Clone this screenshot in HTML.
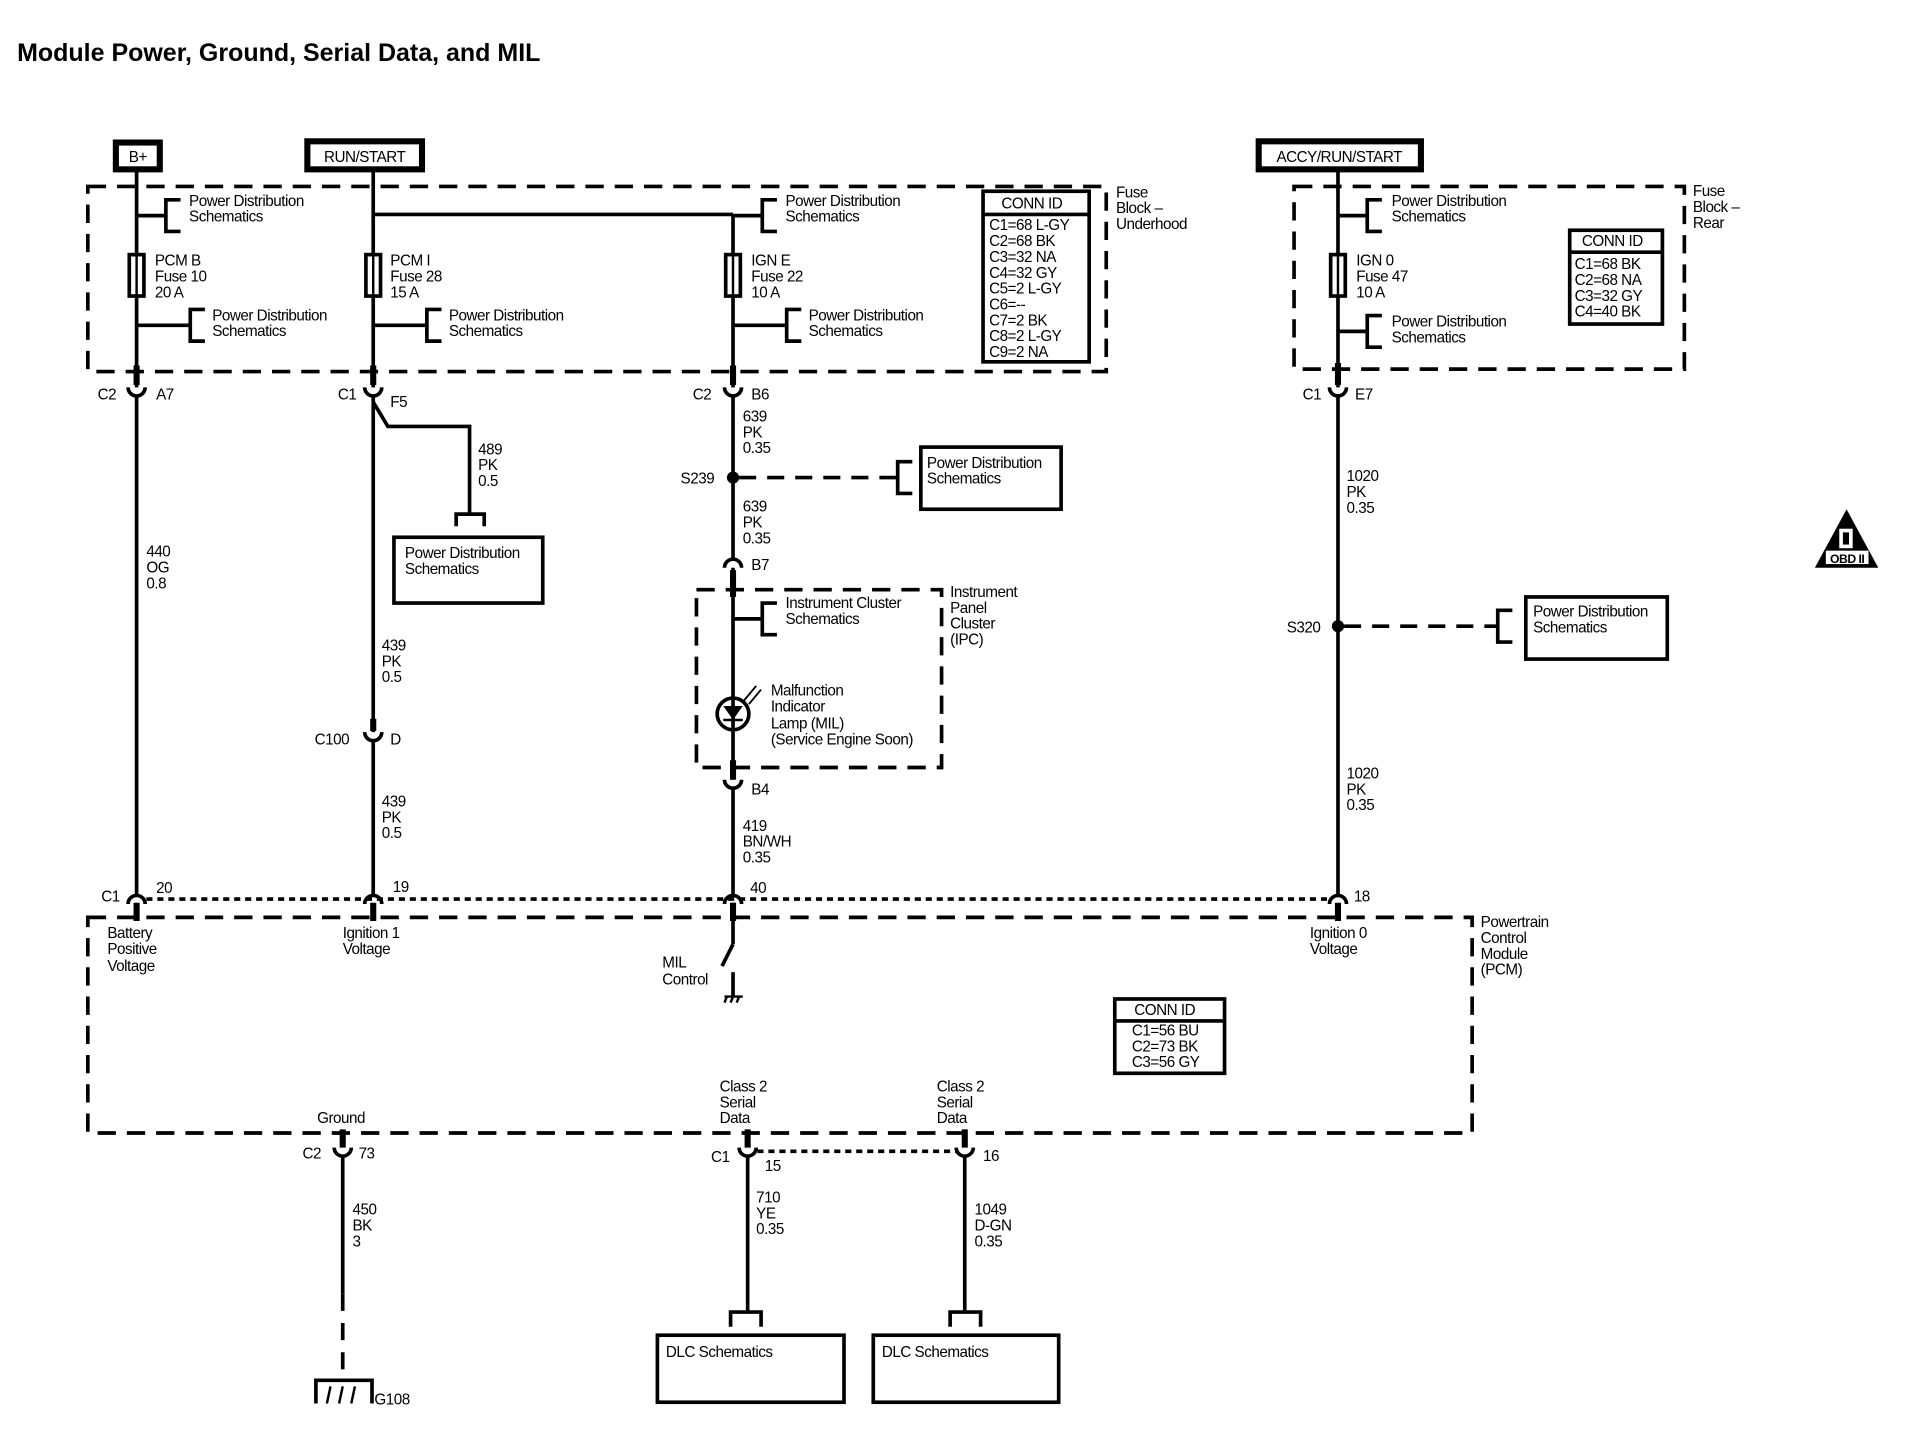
<!DOCTYPE html>
<html><head><meta charset="utf-8"><style>
html,body{margin:0;padding:0;background:#fff;}
svg{display:block;}
text{font-family:"Liberation Sans",Arial,sans-serif;font-size:12.5px;fill:#000;letter-spacing:-0.4px;}
.b{font-weight:bold;}
</style></head><body>
<svg width="1910" height="1440" viewBox="0 0 1566 1182" preserveAspectRatio="none" xmlns="http://www.w3.org/2000/svg">
<rect width="1566" height="1182" fill="#fff"/>
<text x="14" y="50" class="b" style="font-size:20.5px;letter-spacing:0">Module Power, Ground, Serial Data, and MIL</text>

<g fill="none" stroke="#000">
<rect x="95" y="117" width="36" height="22" stroke-width="5"/>
<rect x="252" y="116" width="94" height="23" stroke-width="5"/>
<rect x="1032" y="116" width="133" height="23" stroke-width="5"/>

<rect x="72" y="153" width="835" height="152" stroke-width="3" stroke-dasharray="15 9"/>
<rect x="1061" y="153" width="320" height="150" stroke-width="3" stroke-dasharray="15 9"/>
<rect x="571" y="484" width="201" height="146" stroke-width="3" stroke-dasharray="15 9"/>
<rect x="72" y="753" width="1135" height="177" stroke-width="3" stroke-dasharray="15 9"/>

<g stroke-width="3">
<line x1="112" y1="139" x2="112" y2="318"/>
<line x1="112" y1="325" x2="112" y2="735"/>
<line x1="306" y1="139" x2="306" y2="318"/>
<line x1="306" y1="325" x2="306" y2="601"/>
<line x1="306" y1="608" x2="306" y2="735"/>
<line x1="306" y1="176" x2="601" y2="176"/>
<line x1="601" y1="176" x2="601" y2="318"/>
<line x1="601" y1="325" x2="601" y2="460"/>
<line x1="601" y1="466" x2="601" y2="640"/>
<line x1="601" y1="647" x2="601" y2="735"/>
<line x1="1097" y1="139" x2="1097" y2="318"/>
<line x1="1097" y1="325" x2="1097" y2="735"/>
<polyline points="306,330 318,350 385,350 385,422"/>
<line x1="601" y1="741" x2="601" y2="775"/>
<line x1="601" y1="775" x2="592" y2="793"/>
<line x1="601" y1="798" x2="601" y2="818"/>
<line x1="281" y1="948" x2="281" y2="1062"/>
<line x1="281" y1="1062" x2="281" y2="1132" stroke-dasharray="14 10"/>
<line x1="613" y1="948" x2="613" y2="1077"/>
<line x1="791" y1="948" x2="791" y2="1077"/>
</g>
<g stroke-width="5">
<line x1="112" y1="300" x2="112" y2="316"/><line x1="306" y1="300" x2="306" y2="316"/>
<line x1="601" y1="300" x2="601" y2="316"/><line x1="1097" y1="298" x2="1097" y2="316"/>
<line x1="112" y1="741" x2="112" y2="756"/><line x1="306" y1="741" x2="306" y2="756"/>
<line x1="601" y1="741" x2="601" y2="756"/><line x1="1097" y1="741" x2="1097" y2="756"/>
<line x1="601" y1="468" x2="601" y2="490"/><line x1="601" y1="624" x2="601" y2="640"/>
<line x1="306" y1="590" x2="306" y2="600"/>
<line x1="281" y1="927" x2="281" y2="942"/><line x1="613" y1="927" x2="613" y2="942"/><line x1="791" y1="927" x2="791" y2="942"/>
</g>
<g stroke-width="3">
<path d="M105,318 A7,7 0 0 0 119,318"/>
<path d="M299,318 A7,7 0 0 0 313,318"/>
<path d="M594,318 A7,7 0 0 0 608,318"/>
<path d="M1090,318 A7,7 0 0 0 1104,318"/>
<path d="M299,601 A7,7 0 0 0 313,601"/>
<path d="M594,640 A7,7 0 0 0 608,640"/>
<path d="M274,942 A7,7 0 0 0 288,942"/>
<path d="M606,942 A7,7 0 0 0 620,942"/>
<path d="M784,942 A7,7 0 0 0 798,942"/>
<path d="M105,742 A7,7 0 0 1 119,742"/>
<path d="M299,742 A7,7 0 0 1 313,742"/>
<path d="M594,742 A7,7 0 0 1 608,742"/>
<path d="M1090,742 A7,7 0 0 1 1104,742"/>
<path d="M594,466 A7,7 0 0 1 608,466"/>
</g>
<line x1="120" y1="738" x2="1090" y2="738" stroke-width="3" stroke-dasharray="5 4"/>
<line x1="621" y1="945" x2="784" y2="945" stroke-width="3" stroke-dasharray="5 4"/>

<g stroke-width="3" fill="#fff">
<rect x="106" y="209" width="12" height="34"/><rect x="300" y="209" width="12" height="34"/>
<rect x="595" y="209" width="12" height="34"/><rect x="1091" y="209" width="12" height="34"/>
</g>
<g stroke-width="2"><line x1="112" y1="209" x2="112" y2="243"/><line x1="306" y1="209" x2="306" y2="243"/><line x1="601" y1="209" x2="601" y2="243"/><line x1="1097" y1="209" x2="1097" y2="243"/></g>

<g stroke-width="3">
<line x1="112" y1="177" x2="136" y2="177"/><path d="M148,164 H136 V190 H148"/>
<line x1="112" y1="267" x2="156" y2="267"/><path d="M168,254 H156 V280 H168"/>
<line x1="306" y1="267" x2="350" y2="267"/><path d="M362,254 H350 V280 H362"/>
<line x1="601" y1="177" x2="625" y2="177"/><path d="M637,164 H625 V190 H637"/>
<line x1="601" y1="267" x2="645" y2="267"/><path d="M657,254 H645 V280 H657"/>
<line x1="1097" y1="177" x2="1121" y2="177"/><path d="M1133,164 H1121 V190 H1133"/>
<line x1="1097" y1="272" x2="1121" y2="272"/><path d="M1133,259 H1121 V285 H1133"/>
<line x1="601" y1="508" x2="625" y2="508"/><path d="M637,495 H625 V521 H637"/>
<path d="M374,432 V422 H397 V432"/>
<path d="M599,1089 V1077 H624 V1089"/>
<path d="M779,1089 V1077 H804 V1089"/>
<line x1="606" y1="392" x2="728" y2="392" stroke-dasharray="14 9"/><path d="M748,379 H736 V405 H748"/>
<line x1="728" y1="392" x2="736" y2="392"/>
<line x1="1102" y1="514" x2="1220" y2="514" stroke-dasharray="14 9"/><path d="M1240,501 H1228 V527 H1240"/>
<line x1="1220" y1="514" x2="1228" y2="514"/>
</g>
<g stroke-width="3">
<rect x="323" y="441" width="122" height="54"/>
<rect x="755" y="367" width="115" height="51"/>
<rect x="1251" y="490" width="116" height="51"/>
<rect x="539" y="1096" width="153" height="55"/>
<rect x="716" y="1096" width="152" height="55"/>
<rect x="806" y="157" width="87" height="140"/>
<line x1="806" y1="176" x2="893" y2="176"/>
<rect x="1287" y="189" width="76" height="77"/>
<line x1="1287" y1="207" x2="1363" y2="207"/>
<rect x="914" y="820" width="90" height="61"/>
<line x1="914" y1="838" x2="1004" y2="838"/>
</g>
<circle cx="601" cy="392" r="5" fill="#000" stroke="none"/>
<circle cx="1097" cy="514" r="5" fill="#000" stroke="none"/>
<circle cx="601" cy="586" r="13" stroke-width="3" fill="#fff"/>
<line x1="601" y1="573" x2="601" y2="599" stroke-width="3"/>
<path d="M594,580 H608 L601,590 Z" fill="#000" stroke-width="1"/>
<line x1="593" y1="591" x2="609" y2="591" stroke-width="2"/>
<g stroke-width="1.5"><line x1="610" y1="575" x2="620" y2="563"/><line x1="614" y1="578" x2="624" y2="566"/></g>
<g stroke-width="2"><line x1="594" y1="818" x2="609" y2="818"/><line x1="596" y1="818" x2="594" y2="823"/><line x1="601" y1="818" x2="599" y2="823"/><line x1="606" y1="818" x2="604" y2="823"/></g>
<g stroke-width="3"><path d="M259,1152 V1133 H305 V1152"/></g>
<g stroke-width="2"><line x1="271" y1="1138" x2="268" y2="1152"/><line x1="281" y1="1138" x2="278" y2="1152"/><line x1="291" y1="1138" x2="288" y2="1152"/></g>
</g>
<path d="M1514,418 L1540,466 L1488,466 Z" fill="#000"/>
<rect x="1508" y="434" width="11" height="16" fill="#fff"/>
<rect x="1511" y="437" width="5" height="10" fill="#000"/>
<rect x="1497" y="452" width="35" height="11" fill="#fff"/>
<text x="1514.5" y="462" text-anchor="middle" class="b" style="font-size:10px">OBD II</text>

<text x="113" y="133" text-anchor="middle">B+</text>
<text x="299" y="133" text-anchor="middle">RUN/START</text>
<text x="1098" y="133" text-anchor="middle">ACCY/RUN/START</text>

<text x="155" y="169">Power Distribution</text><text x="155" y="182">Schematics</text>
<text x="127" y="218">PCM B</text><text x="127" y="231">Fuse 10</text><text x="127" y="244">20 A</text>
<text x="174" y="263">Power Distribution</text><text x="174" y="276">Schematics</text>
<text x="320" y="218">PCM I</text><text x="320" y="231">Fuse 28</text><text x="320" y="244">15 A</text>
<text x="368" y="263">Power Distribution</text><text x="368" y="276">Schematics</text>
<text x="644" y="169">Power Distribution</text><text x="644" y="182">Schematics</text>
<text x="616" y="218">IGN E</text><text x="616" y="231">Fuse 22</text><text x="616" y="244">10 A</text>
<text x="663" y="263">Power Distribution</text><text x="663" y="276">Schematics</text>
<text x="821" y="171">CONN ID</text>
<text x="811" y="189">C1=68 L-GY</text><text x="811" y="202">C2=68 BK</text><text x="811" y="215">C3=32 NA</text><text x="811" y="228">C4=32 GY</text><text x="811" y="241">C5=2 L-GY</text><text x="811" y="254">C6=--</text><text x="811" y="267">C7=2 BK</text><text x="811" y="280">C8=2 L-GY</text><text x="811" y="293">C9=2 NA</text>
<text x="915" y="162">Fuse</text><text x="915" y="175">Block –</text><text x="915" y="188">Underhood</text>

<text x="1141" y="169">Power Distribution</text><text x="1141" y="182">Schematics</text>
<text x="1112" y="218">IGN 0</text><text x="1112" y="231">Fuse 47</text><text x="1112" y="244">10 A</text>
<text x="1141" y="268">Power Distribution</text><text x="1141" y="281">Schematics</text>
<text x="1297" y="202">CONN ID</text>
<text x="1291" y="221">C1=68 BK</text><text x="1291" y="234">C2=68 NA</text><text x="1291" y="247">C3=32 GY</text><text x="1291" y="260">C4=40 BK</text>
<text x="1388" y="161">Fuse</text><text x="1388" y="174">Block –</text><text x="1388" y="187">Rear</text>

<text x="80" y="328">C2</text><text x="128" y="328">A7</text>
<text x="277" y="328">C1</text><text x="320" y="334">F5</text>
<text x="568" y="328">C2</text><text x="616" y="328">B6</text>
<text x="1068" y="328">C1</text><text x="1111" y="328">E7</text>

<text x="392" y="373">489</text><text x="392" y="386">PK</text><text x="392" y="399">0.5</text>
<text x="332" y="458">Power Distribution</text><text x="332" y="471">Schematics</text>
<text x="120" y="457">440</text><text x="120" y="470">OG</text><text x="120" y="483">0.8</text>
<text x="313" y="534">439</text><text x="313" y="547">PK</text><text x="313" y="560">0.5</text>
<text x="258" y="611">C100</text><text x="320" y="611">D</text>
<text x="313" y="662">439</text><text x="313" y="675">PK</text><text x="313" y="688">0.5</text>

<text x="609" y="346">639</text><text x="609" y="359">PK</text><text x="609" y="372">0.35</text>
<text x="558" y="397">S239</text>
<text x="760" y="384">Power Distribution</text><text x="760" y="397">Schematics</text>
<text x="609" y="420">639</text><text x="609" y="433">PK</text><text x="609" y="446">0.35</text>
<text x="616" y="468">B7</text>
<text x="779" y="490">Instrument</text><text x="779" y="503">Panel</text><text x="779" y="516">Cluster</text><text x="779" y="529">(IPC)</text>
<text x="644" y="499">Instrument  Cluster</text><text x="644" y="512">Schematics</text>
<text x="632" y="571">Malfunction</text><text x="632" y="584">Indicator</text><text x="632" y="598">Lamp (MIL)</text><text x="632" y="611">(Service Engine Soon)</text>
<text x="616" y="652">B4</text>
<text x="609" y="682">419</text><text x="609" y="695">BN/WH</text><text x="609" y="708">0.35</text>

<text x="1104" y="395">1020</text><text x="1104" y="408">PK</text><text x="1104" y="421">0.35</text>
<text x="1055" y="519">S320</text>
<text x="1257" y="506">Power Distribution</text><text x="1257" y="519">Schematics</text>
<text x="1104" y="639">1020</text><text x="1104" y="652">PK</text><text x="1104" y="665">0.35</text>

<text x="83" y="740">C1</text><text x="128" y="733">20</text>
<text x="322" y="732">19</text><text x="615" y="733">40</text><text x="1110" y="740">18</text>

<text x="88" y="770">Battery</text><text x="88" y="783">Positive</text><text x="88" y="797">Voltage</text>
<text x="281" y="770">Ignition 1</text><text x="281" y="783">Voltage</text>
<text x="543" y="794">MIL</text><text x="543" y="808">Control</text>
<text x="1074" y="770">Ignition 0</text><text x="1074" y="783">Voltage</text>
<text x="1214" y="761">Powertrain</text><text x="1214" y="774">Control</text><text x="1214" y="787">Module</text><text x="1214" y="800">(PCM)</text>
<text x="930" y="833">CONN ID</text>
<text x="928" y="850">C1=56 BU</text><text x="928" y="863">C2=73 BK</text><text x="928" y="876">C3=56 GY</text>
<text x="260" y="922">Ground</text>
<text x="590" y="896">Class 2</text><text x="590" y="909">Serial</text><text x="590" y="922">Data</text>
<text x="768" y="896">Class 2</text><text x="768" y="909">Serial</text><text x="768" y="922">Data</text>

<text x="248" y="951">C2</text><text x="294" y="951">73</text>
<text x="583" y="954">C1</text><text x="627" y="961">15</text><text x="806" y="953">16</text>
<text x="289" y="997">450</text><text x="289" y="1010">BK</text><text x="289" y="1023">3</text>
<text x="620" y="987">710</text><text x="620" y="1000">YE</text><text x="620" y="1013">0.35</text>
<text x="799" y="997">1049</text><text x="799" y="1010">D-GN</text><text x="799" y="1023">0.35</text>
<text x="546" y="1114">DLC Schematics</text><text x="723" y="1114">DLC Schematics</text>
<text x="307" y="1153">G108</text>
</svg>
</body></html>
